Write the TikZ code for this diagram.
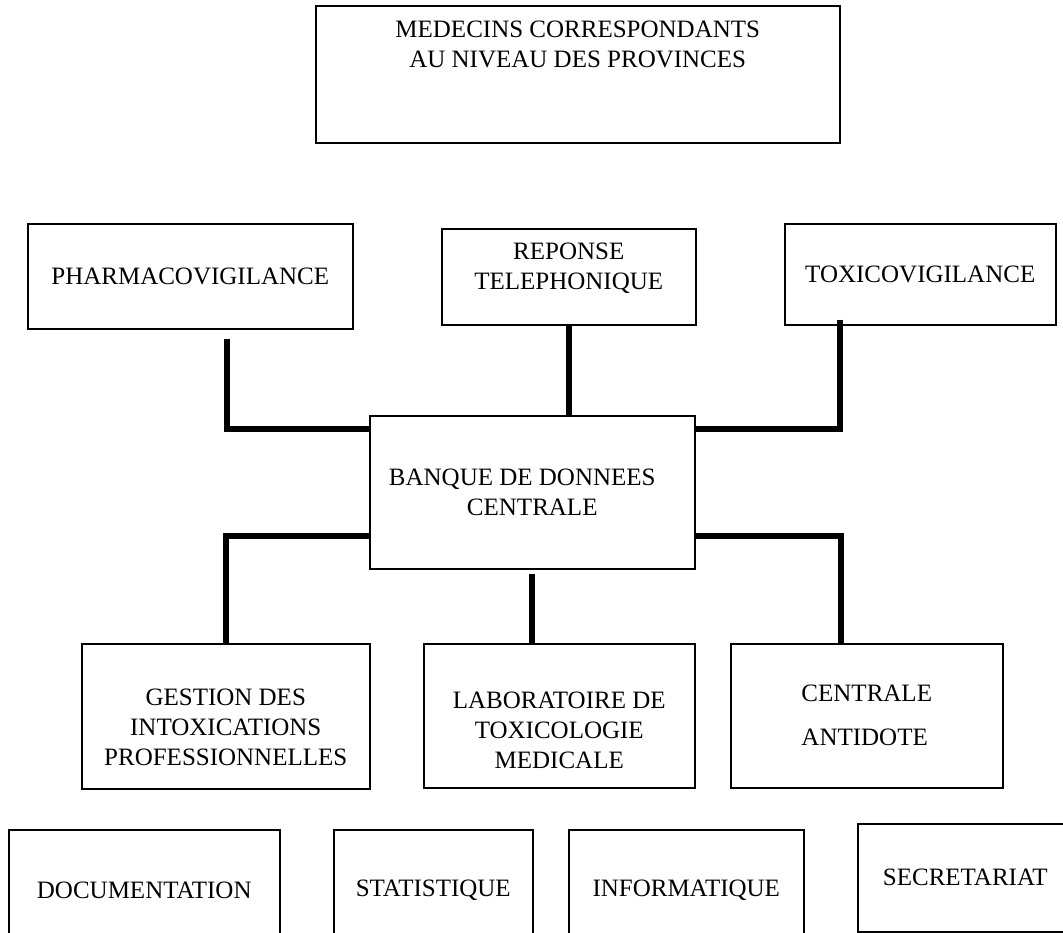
\documentclass[tikz,border=0pt]{standalone}
\usepackage{fontspec}
\setmainfont{Liberation Serif}
\begin{document}
\begin{tikzpicture}[x=1pt,y=-1pt,
box/.style={%
anchor=north west,
draw,
line width=1.5pt,
inner sep=0pt,
align=center,
font=\fontsize{25}{30}\selectfont
},
link/.style={%
line width=6pt
},
]
\clip(0,0)rectangle(1063,932);
%% Top
\node[box,minimum width=524,minimum height=137]at(315,5)(medecins){MEDECINS CORRESPONDANTS\\AU NIVEAU DES PROVINCES\\~\\~};
%% Upper row
\node[box,minimum width=325,minimum height=105]at(27,223)(pharma){PHARMACOVIGILANCE};
\node[box,minimum width=254,minimum height=96]at(441,228)(reponse){REPONSE\\TELEPHONIQUE\\[-8pt]~};
\node[box,minimum width=271,minimum height=101]at(784,223)(toxico){TOXICOVIGILANCE};
%% Centre
\node[box,minimum width=325,minimum height=153]at(369,415)(banque){BANQUE DE DONNEES\hspace*{20pt}\\CENTRALE};
%% Lower row
\node[box,minimum width=288,minimum height=145]at(81,643)(gestion){~\\[8pt]GESTION DES\\INTOXICATIONS\\PROFESSIONNELLES};
\node[box,minimum width=271,minimum height=144]at(423,643)(labo){~\\[16pt]LABORATOIRE DE\\TOXICOLOGIE\\MEDICALE};
\node[box,align=left,minimum width=272,minimum height=144]at(730,643)(antidote){CENTRALE\\[14pt]ANTIDOTE};
%% Services
\node[box,minimum width=271,minimum height=121]at(8,829)(docu){DOCUMENTATION};
\node[box,minimum width=199,minimum height=121]at(333,829)(stat){STATISTIQUE};
\node[box,minimum width=235,minimum height=121]at(568,829)(info){INFORMATIQUE};
\node[box,minimum width=215,minimum height=108]at(857,823)(secr){SECRETARIAT};
%% Links
\draw[link]([xshift=36.5pt,yshift=-9pt]pharma.south)|-([yshift=63.5pt]banque.west);
\draw[link](reponse.south)--(reponse.south|-banque.north);
\draw[link]([xshift=-80.5pt,yshift=6pt]toxico.south)|-([yshift=63.5pt]banque.east);
\draw[link]([yshift=-43.5pt]banque.west)-|(gestion.north);
\draw[link]([yshift=-4pt]banque.south)--(banque.south|-labo.north);
\draw[link]([yshift=-43.5pt]banque.east)-|([xshift=-26pt]antidote.north);
\end{tikzpicture}
\end{document}
